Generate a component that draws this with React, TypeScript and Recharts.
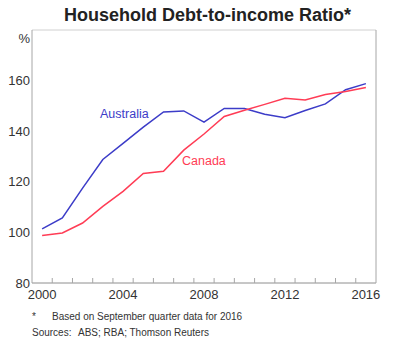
import React from "react"
import {
  LineChart,
  Line,
  XAxis,
  YAxis,
  CartesianGrid,
} from "recharts"

const years = [2000, 2001, 2002, 2003, 2004, 2005, 2006, 2007, 2008, 2009, 2010, 2011, 2012, 2013, 2014, 2015, 2016]
const australia = [101.4, 105.7, 117.5, 128.8, 135.2, 141.6, 147.6, 148, 143.6, 149, 149, 146.7, 145.3, 148.2, 150.8, 156.4, 158.8]
const canada = [98.8, 99.8, 103.7, 110.3, 116.2, 123.3, 124.2, 132.5, 138.9, 145.8, 148.3, 150.6, 153, 152.3, 154.5, 155.7, 157.3]

const yearLabels = [2000, 2004, 2008, 2012, 2016]
const yearEdges = [2000.5, 2001.5, 2002.5, 2003.5, 2004.5, 2005.5, 2006.5, 2007.5, 2008.5, 2009.5, 2010.5, 2011.5, 2012.5, 2013.5, 2014.5, 2015.5]
const yTicks = [80, 100, 120, 140, 160, 180]

const data = years.map((year, i) => ({
  year,
  australia: australia[i],
  canada: canada[i],
}))

const xTicks = [...yearEdges, ...yearLabels].sort((a, b) => a - b)

const BLUE = "#3c3cc8"
const RED = "#ff3c55"
const AXIS = "#a6a6a6"
const TEXT = "#333333"
const FONT = "'Liberation Sans', Arial, sans-serif"

function YTick({ x, y, payload, textAnchor }: any) {
  const isTop = payload.value === 180
  return (
    <text
      x={x}
      y={y + (isTop ? 8 : 0)}
      dy="0.35em"
      textAnchor={textAnchor}
      fontSize={13}
      fontFamily={FONT}
      fill={TEXT}
    >
      {isTop ? "%" : payload.value}
    </text>
  )
}

// year boundaries get a small inward mark, whole years get a label
function XTick({ x, y, payload }: any) {
  if (payload.value % 1 !== 0) {
    return <line x1={x} x2={x} y1={y} y2={y - 5} stroke={AXIS} strokeWidth={1} />
  }
  return (
    <text x={x} y={y + 7} dy="0.71em" textAnchor="middle" fontSize={13} fontFamily={FONT} fill={TEXT}>
      {payload.value}
    </text>
  )
}

export default function App() {
  return (
    <div style={{ position: "absolute", left: 0, top: 0, width: 415, height: 359, background: "#fff", fontFamily: FONT }}>
      <div style={{ position: "absolute", left: 0, top: 5, width: 415, textAlign: "center", fontWeight: "bold", fontSize: 18, color: "#222" }}>
        Household Debt-to-income Ratio*
      </div>

      <div style={{ position: "absolute", left: 0, top: 0 }}>
        <LineChart width={415} height={310} data={data} margin={{ top: 30, right: 0, bottom: 7, left: 0 }}>
          <CartesianGrid vertical={false} stroke="#d0d0d0" />
          <XAxis
            xAxisId="top"
            orientation="top"
            dataKey="year"
            type="number"
            domain={[1999.5, 2016.5]}
            height={0}
            tick={false}
            tickLine={false}
            stroke={AXIS}
          />
          <XAxis
            dataKey="year"
            type="number"
            domain={[1999.5, 2016.5]}
            ticks={xTicks}
            interval={0}
            height={20}
            tickLine={false}
            tickSize={0}
            tickMargin={0}
            stroke={AXIS}
            tick={<XTick />}
          />
          <YAxis
            yAxisId="left"
            domain={[80, 180]}
            ticks={yTicks}
            width={32}
            tickLine={false}
            tickSize={0}
            tickMargin={2}
            stroke={AXIS}
            tick={<YTick />}
          />
          <YAxis
            yAxisId="right"
            orientation="right"
            domain={[80, 180]}
            ticks={yTicks}
            width={39}
            tickLine={false}
            tickSize={0}
            tickMargin={3}
            stroke={AXIS}
            tick={<YTick />}
          />
          <Line yAxisId="left" type="linear" dataKey="australia" stroke={BLUE} strokeWidth={1.5} dot={false} isAnimationActive={false} />
          <Line yAxisId="left" type="linear" dataKey="canada" stroke={RED} strokeWidth={1.5} dot={false} isAnimationActive={false} />
        </LineChart>
      </div>

      <div style={{ position: "absolute", left: 100, top: 107, fontSize: 12.5, color: BLUE }}>Australia</div>
      <div style={{ position: "absolute", left: 182, top: 154, fontSize: 12.5, color: RED }}>Canada</div>

      <div style={{ position: "absolute", left: 32, top: 311, fontSize: 10, color: TEXT }}>*</div>
      <div style={{ position: "absolute", left: 52, top: 311, fontSize: 10, color: TEXT }}>Based on September quarter data for 2016</div>
      <div style={{ position: "absolute", left: 32, top: 327, fontSize: 10, color: TEXT }}>Sources:</div>
      <div style={{ position: "absolute", left: 78, top: 327, fontSize: 10, color: TEXT }}>ABS; RBA; Thomson Reuters</div>
    </div>
  )
}
